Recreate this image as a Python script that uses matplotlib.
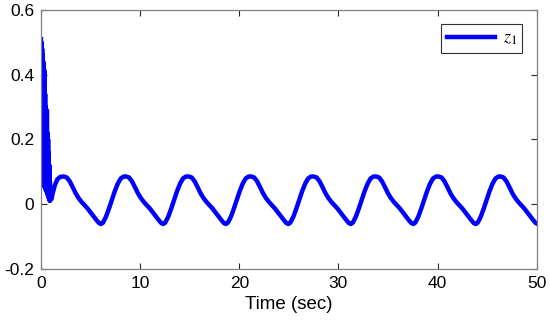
import numpy as np
import matplotlib.pyplot as plt

plt.rcParams['font.family'] = ['Liberation Sans', 'DejaVu Sans']
plt.rcParams['mathtext.fontset'] = 'stix'
plt.rcParams['axes.unicode_minus'] = False

# start-up transient (fast oscillation)
t_start = [0.00, 0.03, 0.06, 0.09, 0.12, 0.15, 0.18, 0.21, 0.24, 0.27, 0.30, 0.33,
           0.36, 0.39, 0.42, 0.45, 0.48, 0.51, 0.54, 0.57, 0.60, 0.63, 0.66, 0.69,
           0.72, 0.75, 0.78, 0.81, 0.84, 0.87, 0.90, 0.93, 0.97, 1.05, 1.20, 1.40,
           1.65, 1.95]
z_start = [0.51, 0.08, 0.50, 0.07, 0.48, 0.07, 0.46, 0.06, 0.44, 0.06, 0.42, 0.06,
           0.41, 0.05, 0.34, 0.05, 0.30, 0.04, 0.28, 0.04, 0.29, 0.03, 0.22, 0.03,
           0.20, 0.02, 0.16, 0.02, 0.12, 0.01, 0.07, 0.01, 0.05, 0.015, 0.035, 0.058,
           0.076, 0.084]

# one cycle of the steady oscillation, measured from a peak
cyc_dt = [0.0, 0.3, 0.6, 0.9, 1.2, 1.5, 1.8, 2.1, 2.4, 2.7, 3.0, 3.3, 3.55, 3.75,
          3.95, 4.25, 4.55, 4.85, 5.15, 5.45, 5.75, 6.05]
cyc_z = [0.085, 0.082, 0.070, 0.052, 0.033, 0.018, 0.006, -0.004, -0.014, -0.026,
         -0.038, -0.050, -0.059, -0.062, -0.058, -0.040, -0.015, 0.012, 0.040,
         0.063, 0.079, 0.085]

# peak times of the oscillation
peaks = [2.30, 8.58, 14.90, 21.20, 27.50, 33.80, 40.10, 46.35]

t = list(t_start)
z = list(z_start)
for p in peaks:
    t += [p + d for d in cyc_dt]
    z += cyc_z

fig = plt.figure(figsize=(5.5, 3.3), dpi=100)
ax = fig.add_axes([0.0745, 0.186, 0.9013, 0.7837])
ax.plot(t, z, color=(0, 0, 1), lw=3.2, label='$z_1$')
ax.set_xlim(0, 50)
ax.set_ylim(-0.2, 0.6)
ax.set_xticks([0, 10, 20, 30, 40, 50])
ax.set_yticks([-0.2, 0, 0.2, 0.4, 0.6])
ax.set_yticklabels(['-0.2', '0', '0.2', '0.4', '0.6'])
ax.tick_params(direction='in', length=4, width=0.8, top=True, right=True,
               labelsize=12.5, color='0.15', pad=5)
for s in ax.spines.values():
    s.set_color('0.5')
    s.set_linewidth(0.9)
ax.set_xlabel('Time (sec)', fontsize=13.5, labelpad=4)
leg = ax.legend(loc='upper right', fontsize=13, fancybox=False, framealpha=1,
                edgecolor='0.2', borderaxespad=0.8, handlelength=2.7,
                borderpad=0.3, handletextpad=0.4)
leg.get_frame().set_linewidth(0.8)
fig.savefig('out.png', dpi=100)
